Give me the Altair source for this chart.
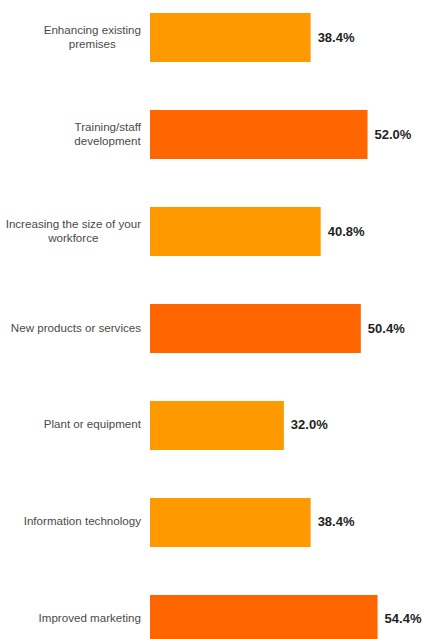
import altair as alt
import pandas as pd

categories = [
    "Enhancing existing premises",
    "Training/staff development",
    "Increasing the size of your workforce",
    "New products or services",
    "Plant or equipment",
    "Information technology",
    "Improved marketing",
]
label_lines = [
    ["Enhancing existing", "premises"],
    ["Training/staff", "development"],
    ["Increasing the size of your", "workforce"],
    ["New products or services"],
    ["Plant or equipment"],
    ["Information technology"],
    ["Improved marketing"],
]
values = [38.4, 52.0, 40.8, 50.4, 32.0, 38.4, 54.4]
groups = ["base", "accent", "base", "accent", "base", "base", "accent"]

LABEL_FONT = "Liberation Sans"
LABEL_SIZE = 11.6

# Approximate Arial / Liberation Sans advance widths (1/1000 em), used only to
# centre the lines of a wrapped label on each other.
_W = dict(zip("abcdefghijklmnopqrstuvwxyz",
              [556, 556, 500, 556, 556, 278, 556, 556, 222, 222, 500, 222, 833,
               556, 556, 556, 556, 333, 500, 278, 556, 500, 722, 500, 500, 500]))
_W.update({" ": 278, "/": 278, "E": 667, "T": 611, "I": 278, "N": 722, "P": 667})


def text_width(s):
    return sum(_W.get(ch, 556) for ch in s) * LABEL_SIZE / 1000.0


bars = pd.DataFrame({"category": categories, "value": values, "group": groups})

rows = []
for cat, lines in zip(categories, label_lines):
    wmax = max(text_width(l) for l in lines)
    for i, l in enumerate(lines):
        shift = (wmax - text_width(l)) / 2.0
        kind = "single" if len(lines) == 1 else ("first" if i == 0 else "second")
        rows.append({"category": cat, "text": l, "px": -9 - shift, "kind": kind})
labels = pd.DataFrame(rows)

yscale = alt.Scale(domain=categories, paddingInner=0.4948, paddingOuter=0.134)
Y = alt.Y("category:N", scale=yscale, axis=None, sort=categories)
X = alt.X("value:Q", scale=alt.Scale(domain=[0, 60], nice=False), axis=None)

bar_layer = alt.Chart(bars).mark_bar().encode(
    x=X,
    y=Y,
    color=alt.Color("group:N",
                    scale=alt.Scale(domain=["base", "accent"], range=["#FF9900", "#FF6600"]),
                    legend=None),
)

value_layer = alt.Chart(bars).transform_calculate(
    label="format(datum.value, '.1f') + '%'"
).mark_text(
    align="left", baseline="middle", dx=7, font=LABEL_FONT, fontSize=13,
    fontWeight="bold", color="#1f1f1f",
).encode(
    x=X,
    y=Y,
    text="label:N",
)


def label_layer(kind, dy):
    return alt.Chart(labels).transform_filter(
        alt.datum.kind == kind
    ).mark_text(
        align="right", baseline="middle", dy=dy, font=LABEL_FONT,
        fontSize=LABEL_SIZE, color="#4a4a4a",
    ).encode(
        x=alt.X("px:Q", scale=None, axis=None),
        y=Y,
        text="text:N",
    )


chart = alt.layer(
    bar_layer,
    value_layer,
    label_layer("single", 0),
    label_layer("first", -7),
    label_layer("second", 7),
).resolve_scale(x="independent").properties(
    width=251,
    height=657,
    autosize=alt.AutoSizeParams(type="none"),
    padding={"left": 150, "top": 0, "right": 21, "bottom": 0},
).configure(background="white", view=alt.ViewConfig(stroke=None))

chart.save("out.html", embed_options={"renderer": "svg", "actions": False})
